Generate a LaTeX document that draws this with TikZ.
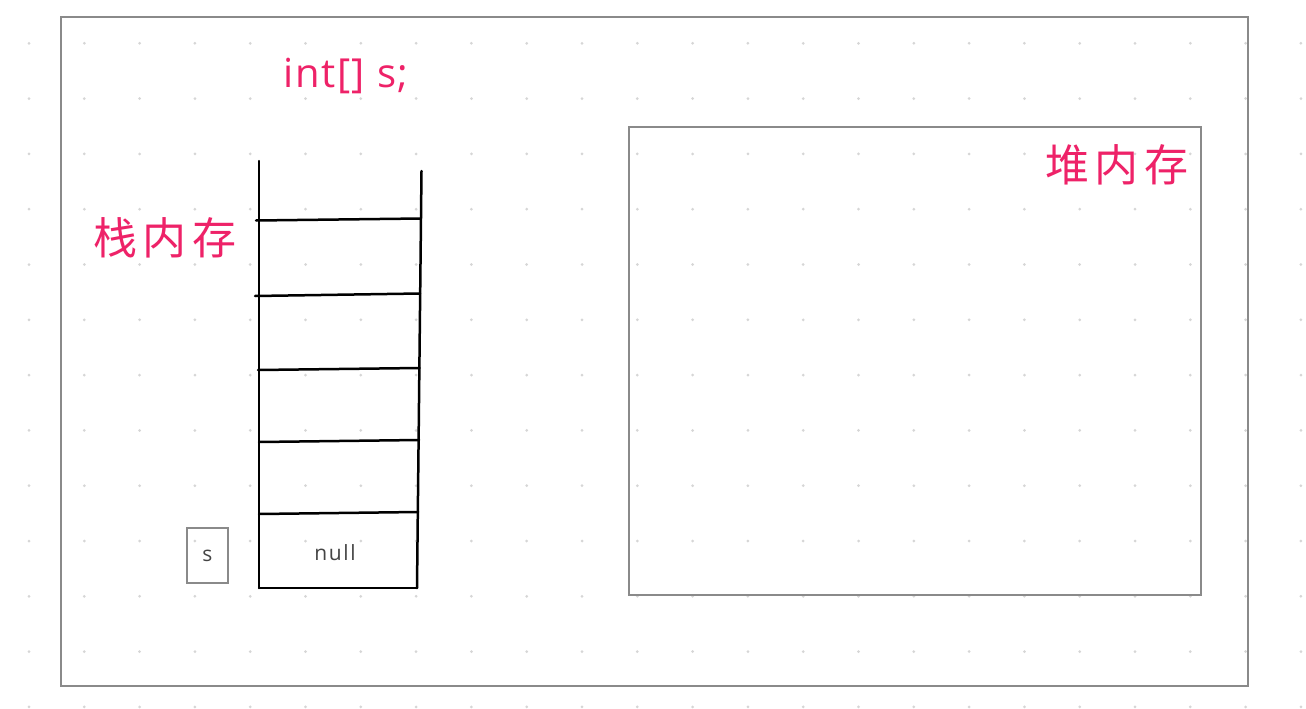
\documentclass[tikz,border=0pt]{standalone}
\usepackage{fontspec}
\setmainfont{Open Sans}
\newfontfamily\cjk[LetterSpace=12]{Noto Sans CJK SC}
\newfontfamily\codefont[LetterSpace=4]{Open Sans}
\newfontfamily\smallfont[LetterSpace=8]{Open Sans}
\definecolor{pinkred}{HTML}{EE2268}
\definecolor{framegray}{HTML}{8A8A8A}
\definecolor{dotgray}{HTML}{D6D6D6}
\definecolor{textgray}{HTML}{444444}
\tikzset{
  frame/.style={draw=framegray, line width=2pt},
  stackline/.style={draw=black, line width=2.5pt, line cap=round},
  pinklabel/.style={text=pinkred, inner sep=0pt},
  varbox/.style={draw=framegray, line width=1.8pt, minimum width=41pt, minimum height=55pt, inner sep=0pt, font=\fontsize{21}{23}\selectfont, text=textgray},
}
\begin{document}
\begin{tikzpicture}[x=1pt,y=-1pt]
\useasboundingbox (0,0) rectangle (1306,709);
\fill[white] (0,0) rectangle (1306,709);
% dot grid
\foreach \i in {0,...,23}{
  \foreach \j in {0,...,12}{
    \fill[dotgray] (29+55.3*\i, 43.3+55.3*\j) circle (1.5pt);
  }
}
% outer frame and heap frame
\draw[frame] (61,17) rectangle (1248,686);
\draw[frame] (629,127) rectangle (1201,595);
% stack
\draw[stackline] (259,161) -- (259,588);
\draw[stackline] (421.5,171) -- (417,588);
\draw[stackline] (256,220.5) -- (421,218.5);
\draw[stackline] (255,296) -- (420,293.5);
\draw[stackline] (258,370) -- (419.5,368);
\draw[stackline] (259,442) -- (419,440);
\draw[stackline] (259,514) -- (418,512);
\draw[stackline] (259,588) -- (417,588);
% texts
\node[pinklabel, anchor=base, font=\codefont\fontsize{40}{42}\selectfont] (decl) at (346,88) {int[] s;};
\node[pinklabel, font=\cjk\fontsize{44}{46}\selectfont] (stack) at (165,238) {栈内存};
\node[pinklabel, font=\cjk\fontsize{44}{46}\selectfont] (heap) at (1117,165) {堆内存};
\node[text=textgray, inner sep=0pt, font=\smallfont\fontsize{21}{23}\selectfont] (nullv) at (335,553) {null};
\node[varbox] (svar) at (207.5,555.5) {s};
\end{tikzpicture}
\end{document}
